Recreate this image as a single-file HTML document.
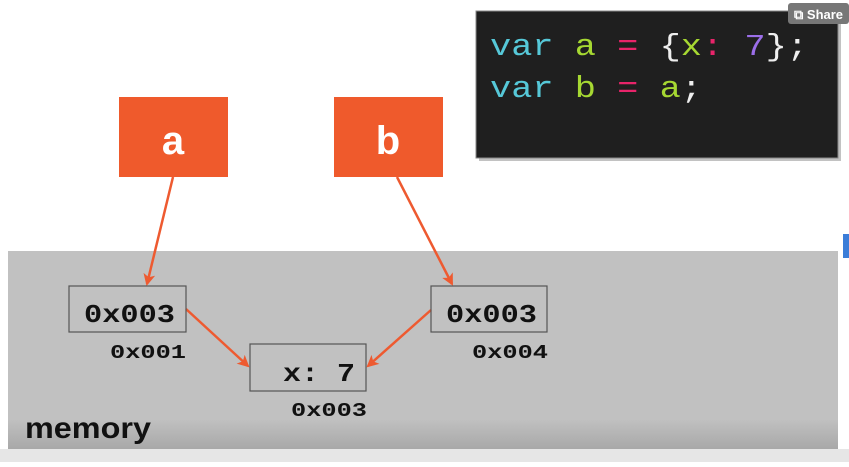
<!DOCTYPE html>
<html><head><style>
body{margin:0;width:849px;height:462px;overflow:hidden;background:#fff;font-family:"Liberation Sans",sans-serif}
</style></head><body>
<svg width="849" height="462" xmlns="http://www.w3.org/2000/svg">
<defs>
<marker id="ar" markerWidth="12" markerHeight="12" refX="10" refY="6" orient="auto" markerUnits="userSpaceOnUse">
<path d="M0,0 L12,6 L0,12 L3,6 z" fill="#ee5a30"/></marker>
<linearGradient id="bot" x1="0" y1="0" x2="0" y2="1"><stop offset="0" stop-color="#c0c0c0"/><stop offset="1" stop-color="#a8a8a8"/></linearGradient>
</defs>
<rect x="0" y="449" width="849" height="13" fill="#e6e6e6"/>
<rect x="8" y="251" width="830" height="198" fill="#c1c1c1"/>
<rect x="8" y="420" width="830" height="29" fill="url(#bot)"/>
<rect x="843" y="234" width="6" height="24" fill="#3b7dd8"/>
<rect x="479" y="14" width="362" height="147" fill="#9a9a9a" opacity="0.6"/>
<rect x="476" y="11" width="362" height="147" fill="#1f1f1f" stroke="#888" stroke-width="1"/>
<rect x="788" y="3" width="61" height="21" rx="3" fill="#777"/>
<text x="794" y="19" font-size="13" fill="#fff" font-weight="bold">⧉ Share</text>
<g font-family="Liberation Mono, monospace" font-size="31">
<text x="490" y="55" textLength="318" lengthAdjust="spacingAndGlyphs"><tspan fill="#56c8d8">var</tspan> <tspan fill="#a6d832">a</tspan> <tspan fill="#e8246a">=</tspan> <tspan fill="#eee">{</tspan><tspan fill="#a6d832">x</tspan><tspan fill="#e8246a">:</tspan> <tspan fill="#9b6ee8">7</tspan><tspan fill="#eee">};</tspan></text>
<text x="490" y="97" textLength="212" lengthAdjust="spacingAndGlyphs"><tspan fill="#56c8d8">var</tspan> <tspan fill="#a6d832">b</tspan> <tspan fill="#e8246a">=</tspan> <tspan fill="#a6d832">a</tspan><tspan fill="#eee">;</tspan></text>
</g>
<rect x="119" y="97" width="109" height="80" fill="#ef5a2c"/>
<rect x="334" y="97" width="109" height="80" fill="#ef5a2c"/>
<text x="173" y="154" font-size="40" font-weight="bold" fill="#fff" text-anchor="middle">a</text>
<text x="388" y="154" font-size="40" font-weight="bold" fill="#fff" text-anchor="middle">b</text>
<g stroke="#ee5a30" stroke-width="2.5" fill="none" marker-end="url(#ar)">
<line x1="173" y1="177" x2="147" y2="284"/>
<line x1="397" y1="177" x2="452" y2="284"/>
<line x1="186" y1="309" x2="248" y2="366"/>
<line x1="431" y1="310" x2="368" y2="366"/>
</g>
<g fill="none" stroke="#555" stroke-width="1.2">
<rect x="69" y="286" width="117" height="46"/>
<rect x="431" y="286" width="116" height="46"/>
<rect x="250" y="344" width="116" height="47"/>
</g>
<g font-family="Liberation Mono, monospace" font-weight="bold" fill="#111">
<text x="84" y="322" font-size="26" textLength="91" lengthAdjust="spacingAndGlyphs">0x003</text>
<text x="446" y="322" font-size="26" textLength="91" lengthAdjust="spacingAndGlyphs">0x003</text>
<text x="283" y="381" font-size="26" textLength="72" lengthAdjust="spacingAndGlyphs">x: 7</text>
<text x="110" y="358" font-size="19" textLength="76" lengthAdjust="spacingAndGlyphs">0x001</text>
<text x="472" y="358" font-size="19" textLength="76" lengthAdjust="spacingAndGlyphs">0x004</text>
<text x="291" y="416" font-size="19" textLength="76" lengthAdjust="spacingAndGlyphs">0x003</text>
</g>
<text x="25" y="438" font-size="30" font-weight="bold" fill="#111" textLength="126" lengthAdjust="spacingAndGlyphs">memory</text>
</svg>
</body></html>
